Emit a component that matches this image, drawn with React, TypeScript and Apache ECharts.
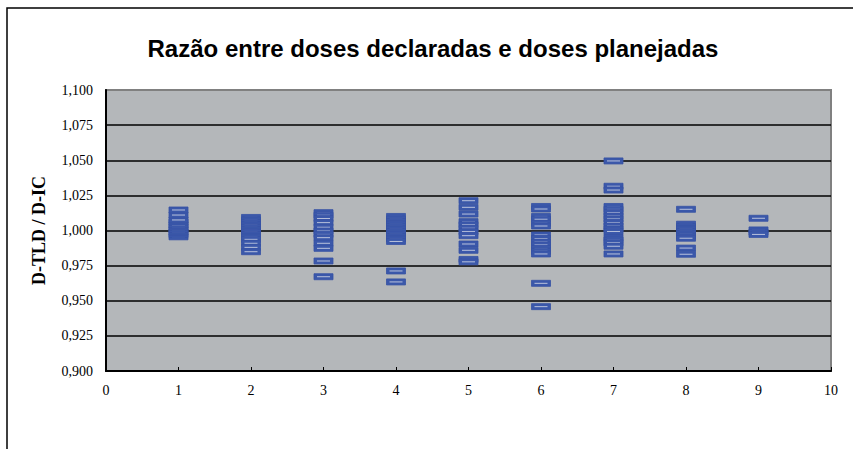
import React, { useEffect, useRef } from "react";
import * as echarts from "echarts";

// Ratio D-TLD / D-IC for each institution (x = 1..9), listed in drawing order
const col1 = [0.9955, 0.9972, 0.9989, 1.0006, 1.0023, 1.004, 1.006, 1.0075, 1.011, 1.0146];
const col2 = [1.0093, 1.0075, 1.0058, 1.0041, 1.0023, 1.0006, 0.9989, 0.9971, 0.9954, 0.9937, 0.9909, 0.988, 0.9849];
const col3 = [1.0127, 1.0108, 1.0085, 1.0056, 1.0023, 0.9996, 0.9972, 0.9949, 0.9909, 0.9873, 0.9783, 0.9671];
const col4 = [1.01, 1.0082, 1.0064, 1.0046, 1.0029, 1.0011, 0.9993, 0.9975, 0.9957, 0.994, 0.9922, 0.9712, 0.9634];
const col5 = [1.0212, 1.0165, 1.0117, 1.0063, 1.0041, 1.0016, 0.9992, 0.9963, 0.9904, 0.9859, 0.9794, 0.9777];
const col6 = [1.0171, 1.0153, 1.01, 1.008, 1.0051, 1.0032, 0.9968, 0.9943, 0.9918, 0.9897, 0.9872, 0.9852, 0.9833, 0.9624, 0.9458];
const col7 = [1.0495, 1.0315, 1.0288, 1.0171, 1.015, 1.0128, 1.0103, 1.0082, 1.0057, 1.0032, 1.0011, 0.9993, 0.995, 0.9932, 0.9913, 0.9888, 0.9833];
const col8 = [1.0151, 1.0045, 1.0028, 1.0011, 0.9994, 0.9977, 0.9959, 0.9945, 0.9875, 0.9831];
const col9 = [1.0087, 1.0004, 0.9988, 0.9972];
const columns = [col1, col2, col3, col4, col5, col6, col7, col8, col9];

const xTicks = [0, 1, 2, 3, 4, 5, 6, 7, 8, 9, 10];
const titleText = "Razão entre doses declaradas e doses planejadas";
const yName = "D-TLD / D-IC";

export default function App() {
  const ref = useRef<HTMLDivElement>(null);
  useEffect(() => {
    if (!ref.current) return;
    const chart = echarts.init(ref.current, null, { renderer: "svg" });
    const data: number[][] = [];
    columns.forEach((vals, i) => vals.forEach((v) => data.push([i + 1, v])));
    chart.setOption({
      animation: false,
      backgroundColor: "#ffffff",
      graphic: [
        {
          type: "rect",
          z: -10,
          shape: { x: 7, y: 8, width: 1000, height: 1000 },
          style: { fill: "none", stroke: "#000000", lineWidth: 1.5 },
        },
        {
          type: "text",
          x: 433,
          y: 48,
          style: {
            text: titleText,
            font: "bold 24px 'Liberation Sans', Arial, sans-serif",
            fill: "#000000",
            textAlign: "center",
            textVerticalAlign: "middle",
          },
        },
      ],
      grid: {
        left: 106,
        right: 22,
        top: 90,
        bottom: 78,
        show: true,
        backgroundColor: "#b4b7ba",
        borderColor: "#808080",
        borderWidth: 2,
      },
      xAxis: {
        type: "value",
        min: xTicks[0],
        max: xTicks[xTicks.length - 1],
        interval: 1,
        axisLine: { show: true, onZero: false, lineStyle: { color: "#000000", width: 2 } },
        axisTick: { show: true, inside: true, length: 4, lineStyle: { color: "#000000", width: 1 } },
        splitLine: { show: false },
        axisLabel: {
          color: "#000000",
          fontFamily: "'Liberation Serif', 'Times New Roman', serif",
          fontSize: 14,
          margin: 12,
        },
      },
      yAxis: {
        type: "value",
        min: 0.9,
        max: 1.1,
        interval: 0.025,
        name: yName,
        nameLocation: "middle",
        nameGap: 58,
        nameTextStyle: {
          color: "#000000",
          fontFamily: "'Liberation Serif', 'Times New Roman', serif",
          fontWeight: "bold",
          fontSize: 18,
        },
        axisLine: { show: true, lineStyle: { color: "#000000", width: 2 } },
        axisTick: { show: false },
        splitLine: { show: true, showMaxLine: false, lineStyle: { color: "#000000", width: 1.5 } },
        axisLabel: {
          color: "#000000",
          fontFamily: "'Liberation Serif', 'Times New Roman', serif",
          fontSize: 14,
          margin: 13,
          formatter: (v: number) => v.toFixed(3).replace(".", ","),
        },
      },
      series: [
        {
          type: "custom",
          data,
          clip: false,
          renderItem: (params: any, api: any) => {
            const p = api.coord([api.value(0), api.value(1)]);
            return {
              type: "group",
              children: [
                {
                  type: "rect",
                  shape: { x: p[0] - 9.5, y: p[1] - 3, width: 19, height: 6 },
                  style: { fill: "#3b58aa", stroke: "#3652a5", lineWidth: 0.8 },
                },
                {
                  type: "line",
                  shape: { x1: p[0] - 6.5, y1: p[1], x2: p[0] + 6.5, y2: p[1] },
                  style: { stroke: "#b9c2dc", lineWidth: 1 },
                },
              ],
            };
          },
        },
      ],
    });
    return () => chart.dispose();
  }, []);
  return (
    <div
      ref={ref}
      style={{ position: "absolute", left: 0, top: 0, width: 853, height: 449 }}
    />
  );
}
